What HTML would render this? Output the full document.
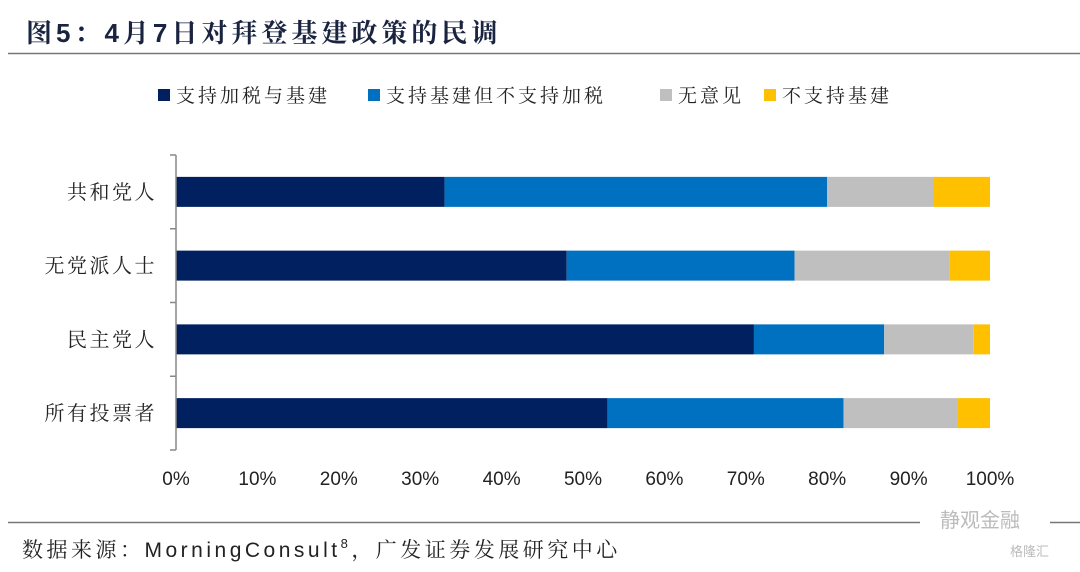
<!DOCTYPE html>
<html><head><meta charset="utf-8"><style>
body{margin:0;background:#fff;width:1080px;height:567px;overflow:hidden;font-family:"Liberation Sans","Noto Serif CJK SC",serif;}
</style></head><body>
<svg width="1080" height="567" xmlns="http://www.w3.org/2000/svg">
<text x="26" y="42" font-size="26" font-weight="bold" fill="#1a2440" letter-spacing="4" font-family="Liberation Sans,Noto Serif CJK SC,serif">图5：4月7日对拜登基建政策的民调</text>
<line x1="8" y1="53.5" x2="1080" y2="53.5" stroke="#777" stroke-width="1.5"/>
<g id="legend"></g>
<g id="plot"></g>
<line x1="8" y1="522.5" x2="1080" y2="522.5" stroke="#777" stroke-width="1.5"/>
<text x="22" y="557" font-size="21" fill="#222" letter-spacing="3.5" font-family="Liberation Sans,Noto Serif CJK SC,serif">数据来源：MorningConsult<tspan font-size="13" dy="-9">8</tspan><tspan dy="9">，广发证券发展研究中心</tspan></text>
<rect x="920" y="510" width="130" height="24" fill="#fff"/>
<text x="940" y="527" font-size="20" fill="#bbb" font-family="Noto Sans CJK SC,sans-serif">静观金融</text>
<text x="1010" y="556" font-size="13" fill="#bbb" font-family="Noto Sans CJK SC,sans-serif">格隆汇</text>
</svg>
<script>
const categories=["共和党人","无党派人士","民主党人","所有投票者"];
const seriesNames=["支持加税与基建","支持基建但不支持加税","无意见","不支持基建"];
const s1=[33,48,71,53];
const s2=[47,28,16,29];
const s3=[13,19,11,14];
const s4=[7,5,2,4];
const ticks=[0,10,20,30,40,50,60,70,80,90,100];
const colors=["#002060","#0070C0","#BFBFBF","#FFC000"];
const NS="http://www.w3.org/2000/svg";
const x0=176,x1=990,yTop=155,yBot=450;
const xs=v=>x0+(x1-x0)*v/100;
const band=(yBot-yTop)/categories.length;
const yc=i=>yTop+band*(i+0.5);
const plot=document.getElementById('plot');
function mk(t,a,p){const e=document.createElementNS(NS,t);for(const k in a)e.setAttribute(k,a[k]);(p||plot).appendChild(e);return e;}
const series=[s1,s2,s3,s4];
categories.forEach((c,i)=>{
  let acc=0;
  series.forEach((s,j)=>{
    const r=mk('rect',{x:xs(acc),y:yc(i)-15,width:xs(acc+s[i])-xs(acc),height:30,fill:colors[j]});
    
    
    acc+=s[i];
  });
  const t=mk('text',{x:157,y:yc(i)+7,'text-anchor':'end','font-size':20,'letter-spacing':2.5,fill:'#222'});
  t.textContent=c;
  
  
});
const ax=mk('line',{x1:x0,y1:yTop,x2:x0,y2:yBot,stroke:'#888','stroke-width':1.5});


for(let k=0;k<=categories.length;k++){
  const tk=mk('line',{x1:x0-6,x2:x0,y1:yTop+band*k,y2:yTop+band*k,stroke:'#888','stroke-width':1.5});
  
  
}
ticks.forEach(v=>{
  const t=mk('text',{x:xs(v),y:485,'text-anchor':'middle','font-size':19,fill:'#222'});
  t.textContent=v+'%';
  
  
});
const lg=document.getElementById('legend');
const lx=[158,368,660,764];
seriesNames.forEach((n,j)=>{
  const r=mk('rect',{x:lx[j],y:89,width:12,height:12,fill:colors[j]},lg);
  
  
  const t=mk('text',{x:lx[j]+18,y:102,'font-size':19,'letter-spacing':3,fill:'#222'},lg);
  t.textContent=n;
  
  
});
</script>
</body></html>
